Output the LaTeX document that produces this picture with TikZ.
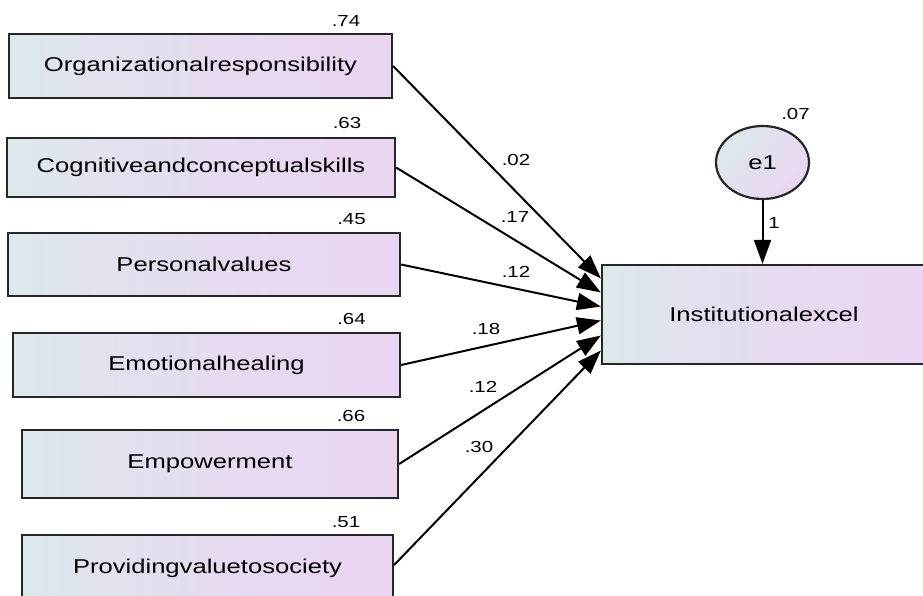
\documentclass[tikz,border=0pt]{standalone}
\usepackage{fontspec}
\setmainfont[FakeStretch=1.28]{Liberation Sans}
\usepackage{tikz}
\usetikzlibrary{arrows.meta,shapes.geometric}
\definecolor{boxleft}{RGB}{221,232,236}
\definecolor{boxright}{RGB}{234,213,242}

\begin{document}
\begin{tikzpicture}[x=1pt, y=-1pt,
    obs/.style={rectangle, draw=black!85, line width=2.2pt,
                left color=boxleft, right color=boxright, middle color=boxleft!35!boxright,
                inner sep=0pt, font=\fontsize{20}{22}\selectfont},
    err/.style={ellipse, draw=black!85, line width=2.2pt,
                shading=axis, left color=boxleft, right color=boxright, shading angle=45,
                minimum width=93pt, minimum height=73pt, inner sep=0pt,
                font=\fontsize{20}{22}\selectfont},
    est/.style={font=\fontsize{16}{18}\selectfont, inner sep=0pt},
    arr/.style={-{Triangle[length=24pt,width=17pt]}, line width=2pt}
  ]
    \useasboundingbox (0,0) rectangle (923,595);
    \node[obs, minimum width=383pt, minimum height=64pt] (org)  at (200.5,66)  {Organizationalresponsibility};
    \node[obs, minimum width=388pt, minimum height=59pt] (cog)  at (201,167.5) {Cognitiveandconceptualskills};
    \node[obs, minimum width=392pt, minimum height=63pt] (pers) at (204,264.5) {Personalvalues};
    \node[obs, minimum width=387pt, minimum height=64pt] (emo)  at (206.5,365) {Emotionalhealing};
    \node[obs, minimum width=376pt, minimum height=68pt] (emp)  at (210,464)   {Empowerment};
    \node[obs, minimum width=371pt, minimum height=66pt] (prov) at (207.5,568) {Providingvaluetosociety};
    \node[obs, minimum width=324pt, minimum height=99pt] (inst) at (764,314.5) {Institutionalexcel};
    \node[err] (e1) at (762.5,162.5) {e1};
    % variances
    \node[est] (v1) at (346,20.5) {.74};
    \node[est] (v2) at (347,123)  {.63};
    \node[est] (v3) at (351.5,219) {.45};
    \node[est] (v4) at (351.5,319) {.64};
    \node[est] (v5) at (351,416)  {.66};
    \node[est] (v6) at (346,522)  {.51};
    \node[est] (ve) at (795.5,114) {.07};
    % paths
    \draw[arr] (org.east)  -- ([yshift=36pt]inst.west);
    \draw[arr] (cog.east)  -- ([yshift=22pt]inst.west);
    \draw[arr] (pers.east) -- ([yshift=8pt]inst.west);
    \draw[arr] (emo.east)  -- ([yshift=-6pt]inst.west);
    \draw[arr] (emp.east)  -- ([yshift=-21pt]inst.west);
    \draw[arr] ([yshift=3pt]prov.east) -- ([yshift=-36pt]inst.west);
    \draw[arr] (e1.south)  -- (e1.south |- inst.north);
    \node[est] (w1) at (516,160) {.02};
    \node[est] (w2) at (515,217) {.17};
    \node[est] (w3) at (516,272) {.12};
    \node[est] (w4) at (486,329) {.18};
    \node[est] (w5) at (483,387) {.12};
    \node[est] (w6) at (479,447) {.30};
    \node[est] (we) at (774,223) {1};
\end{tikzpicture}
\end{document}
